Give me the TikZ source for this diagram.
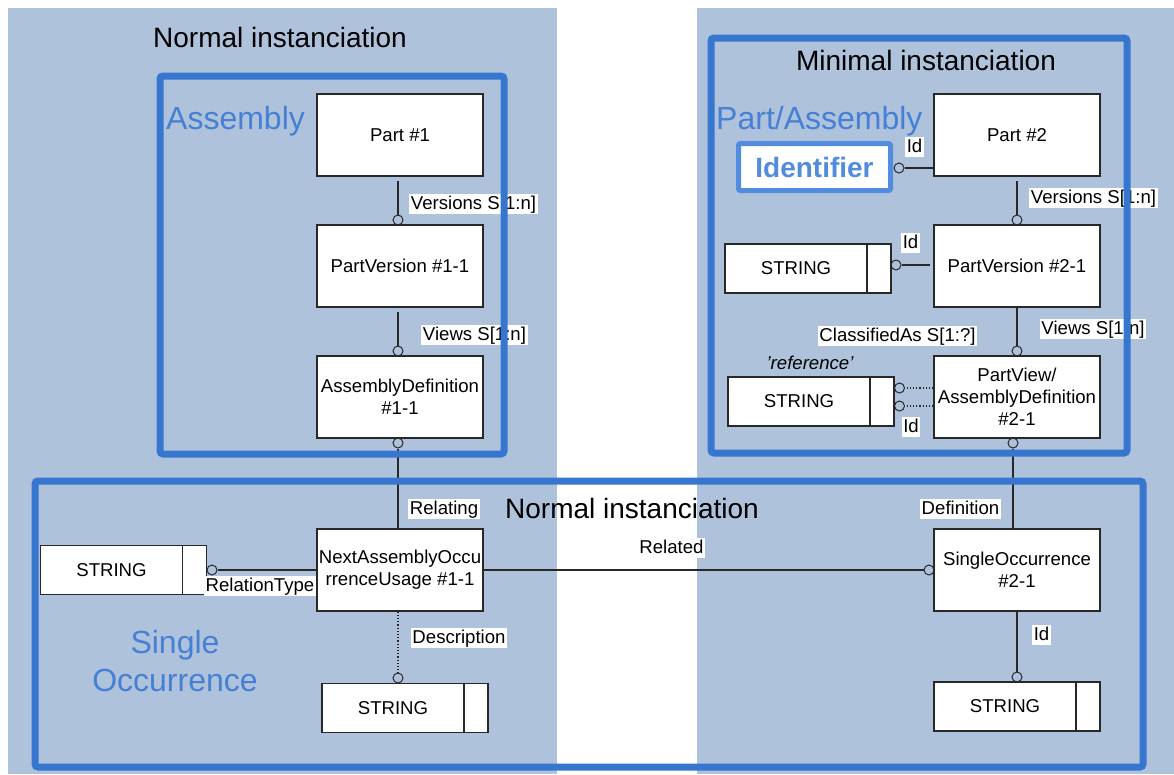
\documentclass[tikz,border=0pt]{standalone}
\usepackage{fontspec}
\setmainfont{Liberation Sans}
\definecolor{panel}{RGB}{175,194,219}
\definecolor{frameblue}{RGB}{54,118,206}
\definecolor{titleblue}{RGB}{70,128,212}
\definecolor{idblue}{RGB}{82,140,222}
\definecolor{ln}{RGB}{40,40,40}
\tikzset{
 ent/.style={draw=ln, line width=1.2pt, fill=white, minimum width=166pt, minimum height=82pt, align=center, inner sep=0pt, font=\fontsize{18.6}{22}\selectfont},
 strbox/.style={draw=ln, line width=1.2pt, fill=white, minimum width=166pt, minimum height=49pt, inner sep=0pt, font=\fontsize{18.6}{22}\selectfont,
   path picture={\draw[ln, line width=1.2pt] ([xshift=-24pt]path picture bounding box.north east) -- ([xshift=-24pt]path picture bounding box.south east);}},
 circ/.style={circle, draw=ln, line width=1pt, inner sep=0pt, minimum size=10pt},
 conn/.style={draw=ln, line width=1.2pt},
 dconn/.style={conn, dotted},
 lbl/.style={fill=white, inner sep=1.5pt, font=\fontsize{18.6}{22}\selectfont, text height=13.5pt, text depth=3.5pt},
 bframe/.style={draw=frameblue, line width=7pt, rounded corners=3pt},
 ttl/.style={inner sep=0pt, anchor=base, font=\fontsize{28}{34}\selectfont},
 btitle/.style={inner sep=0pt, text=titleblue, font=\fontsize{32}{38}\selectfont},
}
\begin{document}
\begin{tikzpicture}[x=1pt,y=-1pt]
\useasboundingbox (0,0) rectangle (1174,774);
% panels
\fill[panel] (8,8) rectangle (557,774);
\fill[panel] (697,8) rectangle (1174,774);
% titles
\node[ttl] (t1) at (280,47) {Normal instanciation};
\node[ttl] (t2) at (926,70) {Minimal instanciation};
\node[ttl] (t3) at (632,518) {Normal instanciation};
\node[btitle, anchor=base west] (t4) at (166,129) {Assembly};
\node[btitle, anchor=base west] (t5) at (716,129) {Part/Assembly};
\node[btitle, anchor=base] (t6a) at (175,653) {Single};
\node[btitle, anchor=base] (t6b) at (175,691) {Occurrence};
% entities
\node[ent] (p1) at (400,135) {Part \#1};
\node[ent] (pv1) at (400,266) {PartVersion \#1-1};
\node[ent] (ad1) at (400,397) {AssemblyDefinition\\\#1-1};
\node[ent] (nau) at (400,570) {NextAssemblyOccu\\rrenceUsage \#1-1};
\node[ent] (p2) at (1017,135) {Part \#2};
\node[ent] (pv2) at (1017,266) {PartVersion \#2-1};
\node[ent] (pvad2) at (1017,397) {PartView/\\AssemblyDefinition\\\#2-1};
\node[ent] (so2) at (1017,570) {SingleOccurrence\\\#2-1};
% string boxes
\node[strbox] (srt) at (123.5,570) {\hspace*{-24pt}STRING};
\node[strbox] (sdesc) at (405,708) {\hspace*{-24pt}STRING};
\node[strbox] (sid) at (1017,706.5) {\hspace*{-24pt}STRING};
\node[strbox] (spv) at (808,268.5) {\hspace*{-24pt}STRING};
\node[strbox] (spvad) at (811,401.5) {\hspace*{-24pt}STRING};
% identifier
\node[draw=idblue, line width=5pt, rounded corners=2pt, fill=white, minimum width=152pt, minimum height=47pt, text=idblue, font=\bfseries\fontsize{28}{34}\selectfont] (ident) at (814.5,167) {Identifier};
% circles
\node[circ] (cpv1) at (398,220) {};
\node[circ] (cad1) at (398,351) {};
\node[circ] (cad1b) at (398,443) {};
\node[circ] (crt) at (212,570) {};
\node[circ] (cdesc) at (398,678) {};
\node[circ] (crel) at (929,570) {};
\node[circ] (csid) at (1017,677) {};
\node[circ] (cident) at (899,168) {};
\node[circ] (cpv2) at (1017,220) {};
\node[circ] (cpvs) at (896,265) {};
\node[circ] (cpvad2) at (1017,351) {};
\node[circ] (ccls) at (899.5,388) {};
\node[circ] (cid3) at (899.5,406) {};
\node[circ] (cpvad2b) at (1013,443) {};
% connectors
\draw[conn] ([xshift=-2pt,yshift=-4pt]p1.south) -- (cpv1);
\draw[conn] ([xshift=-2pt,yshift=-4pt]pv1.south) -- (cad1);
\draw[conn] (cad1b) -- ([xshift=-2pt]nau.north);
\draw[conn] (nau.west) -- (crt);
\draw[dconn] ([xshift=-2pt]nau.south) -- (cdesc);
\draw[conn] (nau.east) -- (crel);
\draw[conn] (cpvad2b) -- ([xshift=-4pt]so2.north);
\draw[conn] (so2.south) -- (csid);
\draw[conn] ([yshift=-33pt]p2.west) -- (cident);
\draw[conn] ([yshift=-4pt]p2.south) -- (cpv2);
\draw[conn] ([xshift=-3pt,yshift=1pt]pv2.west) -- (cpvs);
\draw[conn] (pv2.south) -- (cpvad2);
\draw[dconn] ([yshift=9pt]pvad2.west) -- (ccls);
\draw[dconn] ([yshift=-9pt]pvad2.west) -- (cid3);
% labels
\node[lbl] (l1) at (473.5,204) {Versions S[1:n]};
\node[lbl] (l2) at (474.5,335) {Views S[1:n]};
\node[lbl] (l3) at (444,509) {Relating};
\node[lbl] (l4) at (260,586) {RelationType};
\node[lbl] (l5) at (459,638) {Description};
\node[lbl] (l6) at (671.5,548) {Related};
\node[lbl] (l7) at (960.5,509) {Definition};
\node[lbl] (l8) at (1041.5,635) {Id};
\node[lbl] (l9) at (914.5,147) {Id};
\node[lbl] (l10) at (1093.5,198) {Versions S[1:n]};
\node[lbl] (l11) at (910.5,243) {Id};
\node[lbl] (l12) at (1093,329) {Views S[1:n]};
\node[lbl] (l13) at (897.5,336) {ClassifiedAs S[1:?]};
\node[font=\itshape\fontsize{18.6}{22}\selectfont, inner sep=0pt] (l14) at (810,363) {'reference'};
\node[lbl] (l15) at (911,427) {Id};
% frames
\draw[bframe] (160,76) rectangle (504,454);
\draw[bframe] (711,38) rectangle (1127,453);
\draw[bframe] (35,481) rectangle (1143,767);
\end{tikzpicture}
\end{document}
